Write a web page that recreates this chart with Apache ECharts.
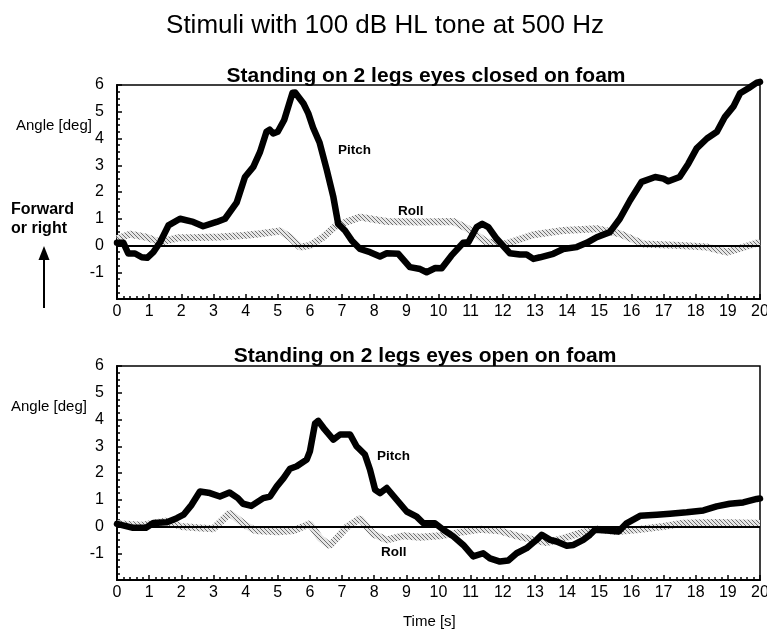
<!DOCTYPE html>
<html>
<head>
<meta charset="utf-8">
<script src="https://cdn.jsdelivr.net/npm/echarts@6/dist/echarts.min.js"></script>
<style>
  html, body { margin: 0; padding: 0; background: #fff; }
  #chart { width: 767px; height: 629px; }
</style>
</head>
<body>
<div id="chart"></div>
<script>
// tick labels
var xTicks = [0, 1, 2, 3, 4, 5, 6, 7, 8, 9, 10, 11, 12, 13, 14, 15, 16, 17, 18, 19, 20];
var yTicks = [-1, 0, 1, 2, 3, 4, 5, 6];

// eyes closed: [time s, angle deg]
var closedPitch = [
  [0, 0.1], [0.2, 0.1], [0.35, -0.3], [0.56, -0.3], [0.77, -0.44], [0.94, -0.46],
  [1.13, -0.25], [1.34, 0.12], [1.6, 0.75], [1.96, 1.0], [2.37, 0.88], [2.68, 0.72],
  [3.1, 0.88], [3.36, 1.0], [3.72, 1.6], [3.98, 2.56], [4.24, 2.94], [4.45, 3.5],
  [4.65, 4.25], [4.75, 4.33], [4.86, 4.19], [5.0, 4.25], [5.2, 4.69], [5.46, 5.71],
  [5.54, 5.72], [5.8, 5.31], [5.95, 4.94], [6.1, 4.4], [6.3, 3.85], [6.52, 2.85],
  [6.73, 1.81], [6.88, 0.81], [7.09, 0.56], [7.3, 0.19], [7.56, -0.13], [7.87, -0.25],
  [8.18, -0.41], [8.39, -0.29], [8.75, -0.31], [9.11, -0.81], [9.43, -0.88], [9.63, -1.0],
  [9.9, -0.84], [10.1, -0.85], [10.4, -0.38], [10.77, 0.1], [10.93, 0.12], [11.19, 0.69],
  [11.36, 0.81], [11.55, 0.69], [11.81, 0.25], [12.0, 0.0], [12.22, -0.29], [12.53, -0.34],
  [12.74, -0.34], [12.95, -0.5], [13.16, -0.44], [13.57, -0.31], [13.88, -0.13], [14.3, -0.06],
  [14.61, 0.1], [14.92, 0.31], [15.33, 0.5], [15.64, 1.0], [15.96, 1.69], [16.32, 2.38],
  [16.74, 2.56], [17.0, 2.5], [17.15, 2.4], [17.5, 2.56], [17.77, 3.06], [18.03, 3.63],
  [18.35, 4.0], [18.66, 4.25], [18.91, 4.81], [19.17, 5.19], [19.38, 5.69], [19.64, 5.88],
  [19.9, 6.09], [20, 6.12]
];
var closedRoll = [
  [0, 0.25], [0.4, 0.42], [0.92, 0.31], [1.34, 0.12], [1.9, 0.29], [2.5, 0.3], [3.2, 0.32],
  [3.93, 0.37], [4.45, 0.44], [5.07, 0.54], [5.38, 0.31], [5.69, -0.06], [6.0, 0.0],
  [6.41, 0.31], [6.83, 0.75], [7.56, 1.06], [8.39, 0.9], [9.4, 0.88], [10.46, 0.9],
  [10.9, 0.63], [11.5, 0.13], [12.1, 0.06], [12.95, 0.4], [13.88, 0.56], [14.92, 0.63],
  [15.64, 0.44], [16.37, 0.06], [17.5, 0.0], [18.35, -0.06], [18.97, -0.25], [19.5, -0.06],
  [19.9, 0.09], [20, 0.1]
];

// eyes open: [time s, angle deg]
var openPitch = [
  [0, 0.1], [0.5, -0.05], [0.9, -0.05], [1.13, 0.13], [1.55, 0.16], [1.86, 0.31], [2.07, 0.44],
  [2.32, 0.81], [2.58, 1.31], [2.89, 1.25], [3.2, 1.12], [3.5, 1.27], [3.76, 1.06],
  [3.92, 0.85], [4.18, 0.77], [4.55, 1.06], [4.76, 1.12], [4.97, 1.5], [5.18, 1.81],
  [5.38, 2.16], [5.59, 2.25], [5.9, 2.5], [6.0, 2.81], [6.16, 3.85], [6.26, 3.95],
  [6.42, 3.69], [6.73, 3.25], [6.94, 3.44], [7.25, 3.44], [7.45, 3.0], [7.71, 2.69],
  [7.87, 2.12], [8.03, 1.37], [8.18, 1.25], [8.39, 1.44], [8.7, 1.0], [9.01, 0.56],
  [9.32, 0.37], [9.53, 0.12], [9.89, 0.12], [10.15, -0.12], [10.46, -0.37], [10.77, -0.69],
  [11.08, -1.12], [11.39, -1.0], [11.6, -1.19], [11.91, -1.31], [12.17, -1.27], [12.43, -1.0],
  [12.74, -0.81], [13.05, -0.5], [13.21, -0.31], [13.47, -0.5], [13.67, -0.56], [13.99, -0.72],
  [14.2, -0.69], [14.5, -0.5], [14.71, -0.31], [14.87, -0.12], [15.23, -0.15], [15.6, -0.19],
  [15.85, 0.12], [16.27, 0.4], [16.79, 0.44], [17.2, 0.48], [17.72, 0.53], [18.24, 0.6],
  [18.65, 0.75], [19.06, 0.85], [19.48, 0.9], [19.9, 1.03], [20, 1.05]
];
var openRoll = [
  [0, 0.1], [0.8, 0.05], [1.5, 0.2], [2.0, 0.0], [2.5, -0.05], [3.0, -0.08], [3.5, 0.5],
  [4.0, 0.05], [4.3, -0.15], [5.0, -0.2], [5.5, -0.15], [6.0, 0.1], [6.31, -0.43],
  [6.62, -0.72], [7.14, -0.03], [7.56, 0.3], [7.97, -0.28], [8.39, -0.5], [8.9, -0.35],
  [9.42, -0.4], [10.05, -0.35], [10.67, -0.22], [11.29, -0.1], [11.91, -0.16], [12.43, -0.35],
  [13.05, -0.53], [13.36, -0.6], [13.88, -0.44], [14.4, -0.25], [14.92, -0.09], [15.54, -0.19],
  [16.16, -0.12], [16.99, 0.0], [17.61, 0.12], [18.65, 0.15], [19.9, 0.12], [20, 0.12]
];

var chart = echarts.init(document.getElementById('chart'));

// hatched grey stroke for the roll trace
var hatch = document.createElement('canvas');
hatch.width = 4;
hatch.height = 4;
var hctx = hatch.getContext('2d');
hctx.fillStyle = '#e6e6e6';
hctx.fillRect(0, 0, 4, 4);
hctx.strokeStyle = '#707070';
hctx.lineWidth = 1;
hctx.beginPath();
hctx.moveTo(0, 0); hctx.lineTo(4, 4);
hctx.moveTo(-2, 2); hctx.lineTo(2, 6);
hctx.moveTo(2, -2); hctx.lineTo(6, 2);
hctx.stroke();

var font = 'Liberation Sans, Arial, sans-serif';

function xAxisOf(gi) {
  return {
    type: 'value', gridIndex: gi, min: 0, max: 20, interval: 1,
    axisLine: { show: true, onZero: false, lineStyle: { color: '#000', width: 2 } },
    axisTick: { show: true, inside: true, length: 5, lineStyle: { color: '#000', width: 1.5 } },
    minorTick: { show: true, splitNumber: 5, length: 3, lineStyle: { color: '#000', width: 1.5 } },
    splitLine: { show: false },
    axisLabel: {
      color: '#000', fontSize: 16, fontFamily: font, margin: 5,
      formatter: function (v) { return xTicks.indexOf(v) >= 0 ? String(v) : ''; }
    }
  };
}
function yAxisOf(gi) {
  return {
    type: 'value', gridIndex: gi, min: -2, max: 6, interval: 1,
    axisLine: { show: true, lineStyle: { color: '#000', width: 2 } },
    axisTick: { show: true, inside: true, length: 5, lineStyle: { color: '#000', width: 1.5 } },
    minorTick: { show: true, splitNumber: 4, length: 3, lineStyle: { color: '#000', width: 1.5 } },
    splitLine: { show: false },
    axisLabel: {
      color: '#000', fontSize: 16, fontFamily: font, margin: 13,
      formatter: function (v) { return yTicks.indexOf(v) >= 0 ? String(v) : ''; }
    }
  };
}
function rollSeries(gi, data) {
  return {
    type: 'line', xAxisIndex: gi, yAxisIndex: gi, data: data, symbol: 'none',
    lineStyle: { width: 7, color: { image: hatch, repeat: 'repeat' } },
    z: 2, silent: true, clip: false
  };
}
function pitchSeries(gi, data) {
  return {
    type: 'line', xAxisIndex: gi, yAxisIndex: gi, data: data, symbol: 'none',
    lineStyle: { width: 6.5, color: '#000', join: 'round', cap: 'round' },
    z: 3, silent: true, clip: false,
    markLine: {
      silent: true, symbol: 'none', label: { show: false },
      lineStyle: { color: '#000', width: 2, type: 'solid' },
      data: [{ yAxis: 0 }]
    }
  };
}

var option = {
  animation: false,
  backgroundColor: '#fff',
  title: [
    { text: 'Stimuli with 100 dB HL tone at 500 Hz', left: 380, top: 8, textAlign: 'center',
      textStyle: { fontSize: 26, fontWeight: 'normal', color: '#000', fontFamily: font } },
    { text: 'Standing on 2 legs eyes closed on foam', left: 421, top: 61, textAlign: 'center',
      textStyle: { fontSize: 21, fontWeight: 'bold', color: '#000', fontFamily: font } },
    { text: 'Standing on 2 legs eyes open on foam', left: 420, top: 341, textAlign: 'center',
      textStyle: { fontSize: 21, fontWeight: 'bold', color: '#000', fontFamily: font } }
  ],
  grid: [
    { left: 117, top: 85, width: 643, height: 214, show: true, borderColor: '#000', borderWidth: 1.5,
      backgroundColor: 'transparent', outerBoundsMode: 'none', containLabel: false },
    { left: 117, top: 366, width: 643, height: 214, show: true, borderColor: '#000', borderWidth: 1.5,
      backgroundColor: 'transparent', outerBoundsMode: 'none', containLabel: false }
  ],
  xAxis: [xAxisOf(0), xAxisOf(1)],
  yAxis: [yAxisOf(0), yAxisOf(1)],
  series: [
    rollSeries(0, closedRoll), pitchSeries(0, closedPitch),
    rollSeries(1, openRoll), pitchSeries(1, openPitch)
  ],
  graphic: [
    { type: 'text', left: 16, top: 118, style: { text: 'Angle [deg]', fontSize: 15, fontFamily: font, fill: '#000' } },
    { type: 'text', left: 11, top: 399, style: { text: 'Angle [deg]', fontSize: 15, fontFamily: font, fill: '#000' } },
    { type: 'text', left: 11, top: 200, style: { text: 'Forward\nor right', fontSize: 16, fontWeight: 'bold', fontFamily: font, fill: '#000', lineHeight: 19 } },
    { type: 'line', shape: { x1: 44, y1: 308, x2: 44, y2: 258 }, style: { stroke: '#000', lineWidth: 2 } },
    { type: 'polygon', shape: { points: [[44, 246], [38.5, 260], [49.5, 260]] }, style: { fill: '#000' } },
    { type: 'text', left: 338, top: 143, style: { text: 'Pitch', fontSize: 13.5, fontWeight: 'bold', fontFamily: font, fill: '#000' } },
    { type: 'text', left: 398, top: 204, style: { text: 'Roll', fontSize: 13.5, fontWeight: 'bold', fontFamily: font, fill: '#000' } },
    { type: 'text', left: 377, top: 449, style: { text: 'Pitch', fontSize: 13.5, fontWeight: 'bold', fontFamily: font, fill: '#000' } },
    { type: 'text', left: 381, top: 545, style: { text: 'Roll', fontSize: 13.5, fontWeight: 'bold', fontFamily: font, fill: '#000' } },
    { type: 'text', left: 403, top: 614, style: { text: 'Time [s]', fontSize: 15, fontFamily: font, fill: '#000' } }
  ]
};
chart.setOption(option);
</script>
</body>
</html>
